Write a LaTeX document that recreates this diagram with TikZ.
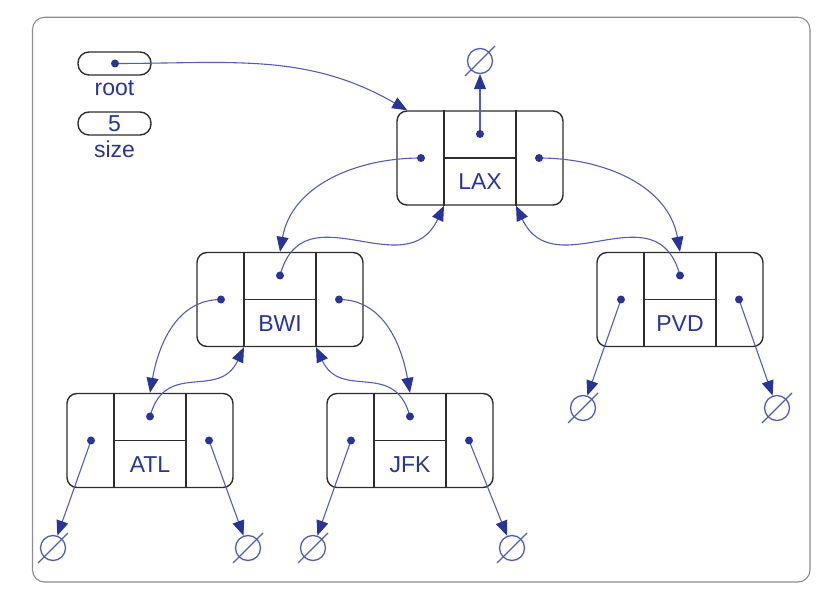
\documentclass[tikz,border=0pt]{standalone}
\usepackage{fontspec}
\setmainfont{Liberation Sans}
\usetikzlibrary{arrows.meta,positioning}

\definecolor{inkblue}{RGB}{40,52,150}
\definecolor{lineblue}{RGB}{80,94,182}
\definecolor{boxgray}{RGB}{45,45,45}

\tikzset{
  bstbox/.style={draw=boxgray, line width=1.4pt, rounded corners=10pt,
    minimum width=166pt, minimum height=94pt, inner sep=0pt},
  cellline/.style={draw=boxgray, line width=1.4pt},
  keytext/.style={text=inkblue, font=\fontsize{23pt}{23pt}\selectfont, inner sep=0pt},
  smallbox/.style={draw=boxgray, line width=1.4pt, rounded corners=11pt,
    minimum width=73pt, minimum height=23pt, inner sep=0pt},
  nullnode/.style={circle, draw=lineblue, line width=1.3pt, minimum size=25pt, inner sep=0pt},
  ptr/.style={draw=lineblue, line width=1.1pt,
    -{Triangle[length=15pt,width=12pt,color=inkblue]}},
}

% tree node: name, position, key
\newcommand{\bstnode}[3]{%
  \node[bstbox] (#1) at (#2) {};
  \draw[cellline] ([xshift=-36pt]#1.north) -- ([xshift=-36pt]#1.south);
  \draw[cellline] ([xshift=36pt]#1.north) -- ([xshift=36pt]#1.south);
  \draw[cellline] ([xshift=-36pt]#1.center) -- ([xshift=36pt]#1.center);
  \node[keytext] (#1-key) at ([yshift=-24pt]#1.center) {#3};
  \coordinate (#1-l) at ([xshift=-59pt]#1.center);
  \coordinate (#1-r) at ([xshift=59pt]#1.center);
  \coordinate (#1-p) at ([yshift=24pt]#1.center);
  \coordinate (#1-bl) at ([xshift=-36pt]#1.south);
  \coordinate (#1-br) at ([xshift=36pt]#1.south);
}

\begin{document}
\begin{tikzpicture}[x=1pt,y=1pt]

\useasboundingbox (0,0) rectangle (839,598);

% Frame
\draw[draw=gray!90, line width=1.1pt, rounded corners=12pt] (32.5,16) rectangle (810,580.7);

% root and size
\node[smallbox] (root) at (114.5,534.5) {};
\coordinate (root-p) at (115,534.5);
\node[keytext, below=5pt of root] (rootlbl) {root};
\node[smallbox] (size) at (114.5,474.5) {};
\node[keytext] (sizeval) at (size) {5};
\node[keytext, below=5pt of size] (sizelbl) {size};

% Tree nodes
\bstnode{lax}{480,440}{LAX}
\bstnode{bwi}{280,298.5}{BWI}
\bstnode{pvd}{680,298.5}{PVD}
\bstnode{atl}{150,157.5}{ATL}
\bstnode{jfk}{410,157.5}{JFK}

% Null pointers
\node[nullnode] (n-lax) at (480,537) {};
\node[nullnode] (n-atl-l) at (53,50) {};
\node[nullnode] (n-atl-r) at (248,50) {};
\node[nullnode] (n-jfk-l) at (313,50) {};
\node[nullnode] (n-jfk-r) at (512,50) {};
\node[nullnode] (n-pvd-l) at (583,190) {};
\node[nullnode] (n-pvd-r) at (777,190) {};
\foreach \n in {n-lax,n-atl-l,n-atl-r,n-jfk-l,n-jfk-r,n-pvd-l,n-pvd-r}
  \draw[lineblue, line width=1.3pt] ([shift={(-15,-15)}]\n.center) -- ([shift={(15,15)}]\n.center);

% Links
\draw[ptr] (root-p) to[out=0,in=150] ([xshift=11pt]lax.north west);
\draw[ptr] (lax-p) -- (n-lax);
\draw[ptr] (lax-l) to[out=180,in=80] (bwi.north);
\draw[ptr] (bwi-p) to[out=75,in=-115,looseness=1.3] (lax-bl);
\draw[ptr] (lax-r) to[out=0,in=100] (pvd.north);
\draw[ptr] (pvd-p) to[out=105,in=-65,looseness=1.3] (lax-br);
\draw[ptr] (bwi-l) to[out=180,in=80] (atl.north);
\draw[ptr] (atl-p) to[out=75,in=-115,looseness=1.3] (bwi-bl);
\draw[ptr] (bwi-r) to[out=0,in=100] (jfk.north);
\draw[ptr] (jfk-p) to[out=105,in=-65,looseness=1.3] (bwi-br);
\foreach \t in {atl,jfk,pvd} {
  \draw[ptr] (\t-l) -- (n-\t-l);
  \draw[ptr] (\t-r) -- (n-\t-r);
}

% Dots
\foreach \t in {lax,bwi,pvd,atl,jfk}
  \foreach \c in {l,r,p}
    \fill[inkblue] (\t-\c) circle (4pt);
\fill[inkblue] (root-p) circle (4pt);

\end{tikzpicture}
\end{document}
